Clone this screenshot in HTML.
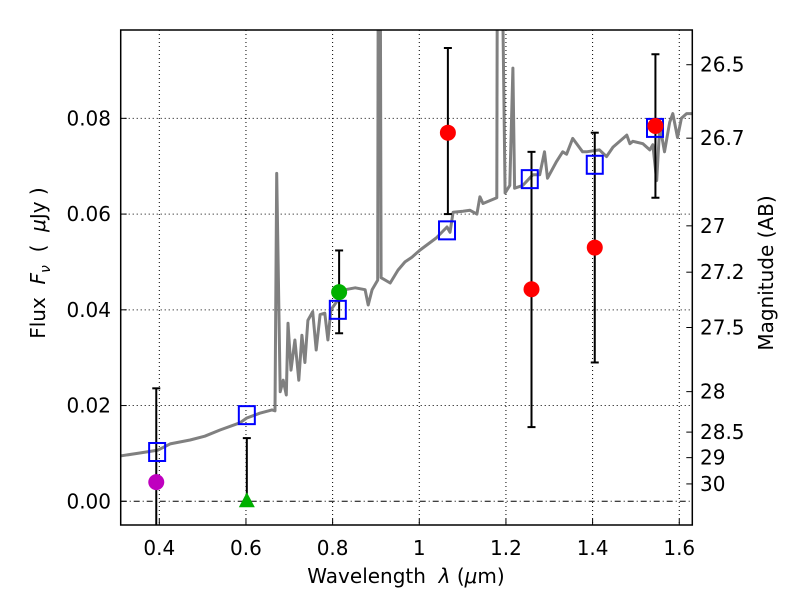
<!DOCTYPE html>
<html><head><meta charset="utf-8"><style>
body{margin:0;background:#fff;}
svg text{font-family:"DejaVu Sans","Liberation Sans",sans-serif;}
</style></head><body>
<svg id="chart" width="800" height="600" xmlns="http://www.w3.org/2000/svg"></svg>
<script>
const specX=[0.312,0.355,0.397,0.425,0.471,0.505,0.540,0.586,0.602,0.632,0.660,0.667,0.671,0.679,0.686,0.693,0.697,0.704,0.713,0.722,0.729,0.736,0.743,0.754,0.762,0.771,0.782,0.789,0.796,0.812,0.829,0.852,0.875,0.882,0.891,0.904,0.906,0.909,0.912,0.933,0.951,0.967,0.983,1.002,1.039,1.064,1.071,1.078,1.101,1.117,1.133,1.140,1.147,1.179,1.181,1.186,1.198,1.209,1.216,1.220,1.239,1.262,1.278,1.289,1.296,1.317,1.331,1.340,1.354,1.377,1.386,1.416,1.432,1.447,1.479,1.486,1.493,1.516,1.532,1.539,1.548,1.555,1.566,1.578,1.585,1.596,1.605,1.617,1.630];
const specY=[0.0095,0.0101,0.0107,0.0120,0.0128,0.0136,0.0149,0.0164,0.0174,0.0184,0.0191,0.0189,0.0685,0.0229,0.0253,0.0222,0.0372,0.0274,0.0337,0.0253,0.0347,0.0290,0.0378,0.0396,0.0316,0.0390,0.0393,0.0337,0.0400,0.0420,0.0442,0.0446,0.0442,0.0410,0.0442,0.0462,0.15,0.15,0.0467,0.0456,0.0483,0.0500,0.0510,0.0525,0.0550,0.0573,0.0562,0.0604,0.0606,0.0608,0.0600,0.0636,0.0622,0.0634,0.15,0.15,0.0644,0.0660,0.0905,0.0654,0.0660,0.0682,0.0682,0.0730,0.0675,0.0710,0.0730,0.0725,0.0758,0.0730,0.0730,0.0734,0.0720,0.0740,0.0765,0.0747,0.0752,0.0747,0.0734,0.0745,0.0670,0.0786,0.0730,0.0792,0.0810,0.0760,0.0800,0.0810,0.0810];
const modelX=[0.395,0.602,0.812,1.064,1.255,1.405,1.544];
const modelY=[0.0103,0.0180,0.0400,0.0566,0.0673,0.0703,0.0780];
const obsX=[0.393,0.815,1.066,1.259,1.405,1.545];
const obsY=[0.0040,0.0437,0.0770,0.0443,0.0530,0.0784];
const obsLo=[-0.0156,0.0351,0.0600,0.0155,0.0290,0.0634];
const obsHi=[0.0236,0.0524,0.0947,0.0730,0.0770,0.0934];
const obsColor=['#bf00bf','#00b000','#ff0000','#ff0000','#ff0000','#ff0000'];
const limX=[0.602];
const limY=[0.0];
const limHi=[0.0132];
const xTicks=[0.4,0.6,0.8,1.0,1.2,1.4,1.6];
const xTickLabels=['0.4','0.6','0.8','1','1.2','1.4','1.6'];
const yTicks=[0,0.02,0.04,0.06,0.08];
const yTickLabels=['0.00','0.02','0.04','0.06','0.08'];
const magTicks=[26.5,26.7,27,27.2,27.5,28,28.5,29,30];
const magTickLabels=['26.5','26.7','27','27.2','27.5','28','28.5','29','30'];

const L=120.7,R=692.3,T=30,B=525;
const sx=x=>159.3+(x-0.4)*433.3;
const sy=y=>501.3-y*4787;
const svg=document.getElementById('chart');
const NS='http://www.w3.org/2000/svg';
function mk(tag,at,parent){const e=document.createElementNS(NS,tag);for(const k in at)e.setAttribute(k,at[k]);(parent||svg).appendChild(e);return e;}
const defs=mk('defs',{});
const cp=mk('clipPath',{id:'clip'},defs);mk('rect',{x:L,y:T,width:R-L,height:B-T},cp);
const plot=mk('g',{'clip-path':'url(#clip)'});



xTicks.forEach((v,i)=>{
 const g=mk('line',{x1:sx(v),x2:sx(v),y1:T,y2:B,stroke:'#000','stroke-width':1,'stroke-dasharray':'1,3'},plot);
 
 
 const t=mk('line',{x1:sx(v),x2:sx(v),y1:B,y2:B-6,stroke:'#000'});
 
 
 const tx=mk('text',{x:sx(v),y:555,'font-size':20,'text-anchor':'middle'});tx.textContent=xTickLabels[i];
 
 
});
yTicks.forEach((v,i)=>{
 const g=mk('line',{x1:L,x2:R,y1:sy(v),y2:sy(v),stroke:'#000','stroke-width':1,'stroke-dasharray':v===0?'6,3,1,3':'1,3'},plot);
 
 
 const t=mk('line',{x1:L,x2:L+6,y1:sy(v),y2:sy(v),stroke:'#000'});
 
 
 const tx=mk('text',{x:111,y:sy(v)+7,'font-size':20,'text-anchor':'end'});tx.textContent=yTickLabels[i];
 
 
});
magTicks.forEach((m,i)=>{
 const f=Math.pow(10,(23.9-m)/2.5);
 const t=mk('line',{x1:R-6,x2:R,y1:sy(f),y2:sy(f),stroke:'#000'});
 
 
 const tx=mk('text',{x:700,y:sy(f)+7,'font-size':20});tx.textContent=magTickLabels[i];
 
 
});
const pts=specX.map((x,i)=>sx(x).toFixed(1)+','+sy(specY[i]).toFixed(1)).join(' ');
const sp=mk('polyline',{points:pts,fill:'none',stroke:'#808080','stroke-width':3,'stroke-linejoin':'round'},plot);


function ebar(x,lo,hi,name){
 const g=mk('g',{stroke:'#000','stroke-width':2},plot);
 
 
 mk('line',{x1:sx(x),x2:sx(x),y1:sy(lo),y2:sy(hi)},g);
 mk('line',{x1:sx(x)-4,x2:sx(x)+4,y1:sy(hi),y2:sy(hi)},g);
 mk('line',{x1:sx(x)-4,x2:sx(x)+4,y1:sy(lo),y2:sy(lo)},g);
}
obsX.forEach((x,i)=>ebar(x,obsLo[i],obsHi[i],'error-bar'));
limX.forEach((x,i)=>ebar(x,limY[i],limHi[i],'limit-error-bar'));
modelX.forEach((x,i)=>{
 const r=mk('rect',{x:sx(x)-8,y:sy(modelY[i])-9,width:16,height:18,fill:'none',stroke:'#0000ff','stroke-width':2},plot);
 
 
});
obsX.forEach((x,i)=>{
 const c=mk('circle',{cx:sx(x),cy:sy(obsY[i]),r:8,fill:obsColor[i]},plot);
 
 
});
limX.forEach((x,i)=>{
 const X=sx(x),Y=sy(limY[i]);
 const p=mk('polygon',{points:`${X},${Y-9} ${X-8},${Y+6} ${X+8},${Y+6}`,fill:'#00b000'},plot);
 
 
});
const fr=mk('rect',{x:L,y:T,width:R-L,height:B-T,fill:'none',stroke:'#000','stroke-width':1.5});


</script>
<svg style="position:absolute;left:0;top:0" width="800" height="600">
<text x="406" y="583" font-size="20" text-anchor="middle" font-family="DejaVu Sans, Liberation Sans, sans-serif" xml:space="preserve">Wavelength  <tspan font-style="italic">λ</tspan> (<tspan font-style="italic">μ</tspan>m)</text>
<text transform="translate(45,263) rotate(-90)" font-size="20" text-anchor="middle" font-family="DejaVu Sans, Liberation Sans, sans-serif" xml:space="preserve">Flux  <tspan font-style="italic">F</tspan><tspan font-style="italic" font-size="14" dy="5">ν</tspan><tspan dy="-5">  (  </tspan><tspan font-style="italic">μ</tspan>Jy )</text>
<text transform="translate(773,273) rotate(-90)" font-size="20" text-anchor="middle" font-family="DejaVu Sans, Liberation Sans, sans-serif">Magnitude (AB)</text>
</svg>
</body></html>
